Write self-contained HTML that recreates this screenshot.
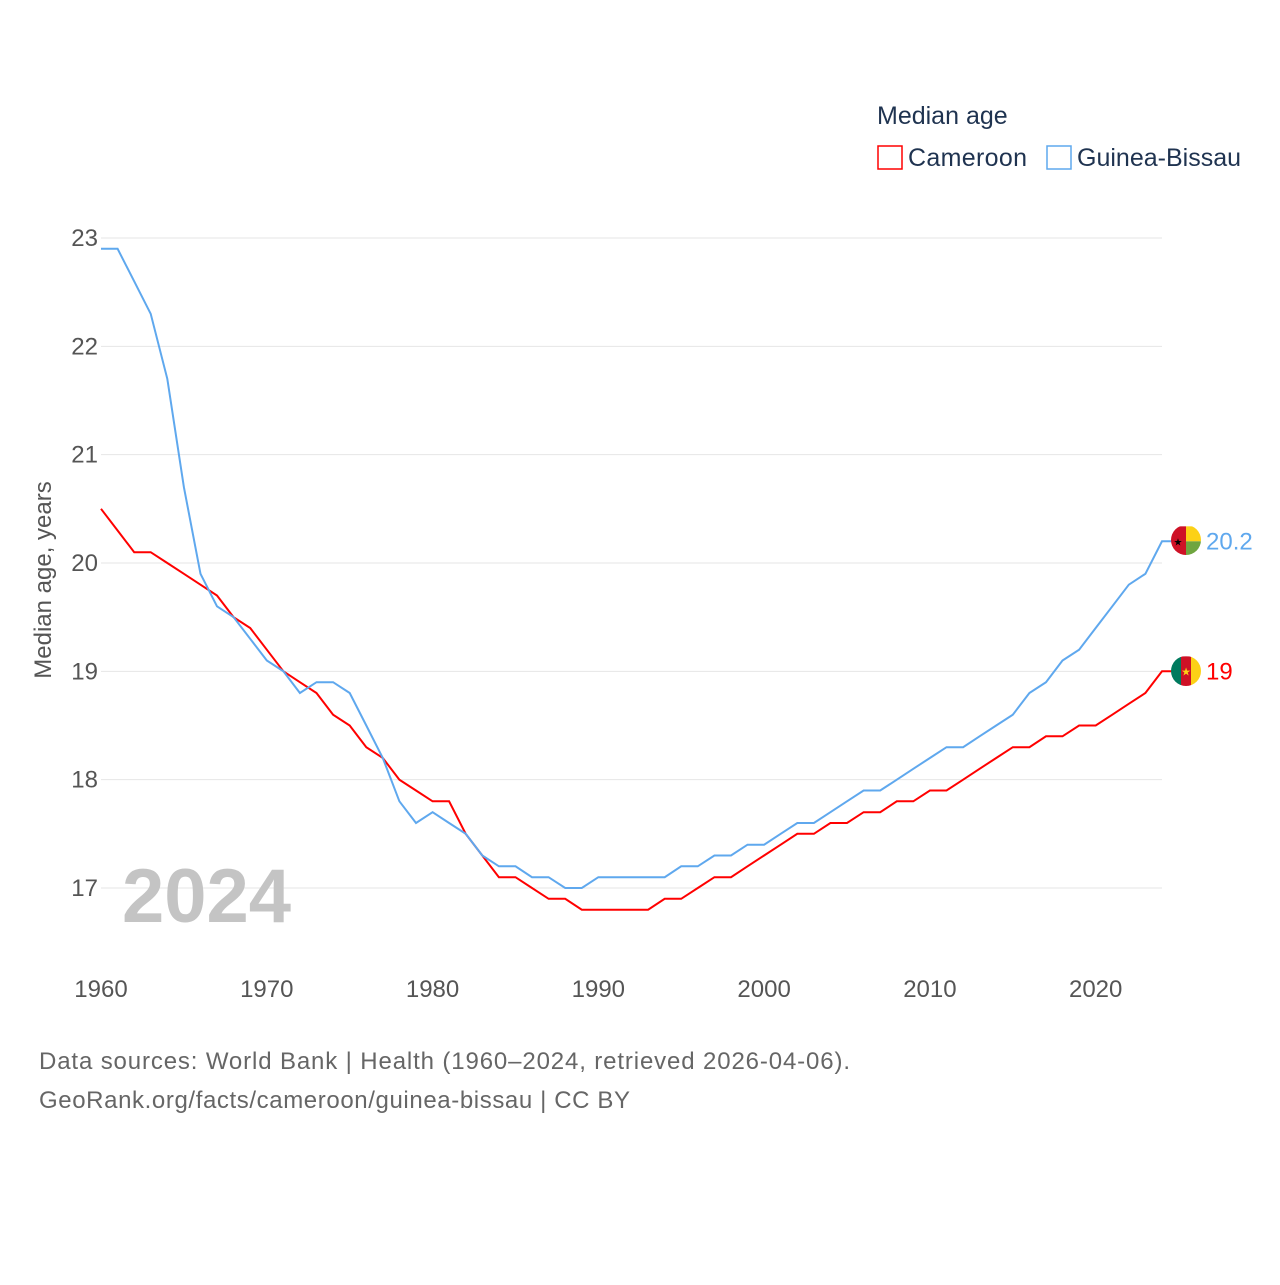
<!DOCTYPE html>
<html><head><meta charset="utf-8">
<style>
body{margin:0;background:#fff;font-family:"Liberation Sans",sans-serif;}
svg text{font-family:"Liberation Sans",sans-serif;}
</style></head>
<body>
<svg id="chart" width="1280" height="1280" viewBox="0 0 1280 1280" xmlns="http://www.w3.org/2000/svg">
<rect width="1280" height="1280" fill="#fff"/>
<defs>
<clipPath id="clipGB"><circle cx="1186" cy="540" r="15"/></clipPath>
<clipPath id="clipCM"><circle cx="1186" cy="671" r="15"/></clipPath>
</defs>
<g id="grid"></g>
<g id="xaxis"></g>
<g id="yaxis"></g>
<text x="122" y="922" font-size="76" font-weight="bold" fill="#c4c4c4">2024</text>
<g id="series"></g>
<text transform="translate(51,580) rotate(-90)" text-anchor="middle" font-size="24" fill="#555">Median age, years</text>
<g>
<text x="877" y="124" font-size="25" fill="#1f3350">Median age</text>
<g>
<rect x="878" y="146" width="24" height="23" fill="none" stroke="#ff0000" stroke-width="1.5"/>
<text x="908" y="166" font-size="25" fill="#1f3350" textLength="119">Cameroon</text></g>
<g>
<rect x="1047" y="146" width="24" height="23" fill="none" stroke="#5fa8ee" stroke-width="1.5"/>
<text x="1077" y="166" font-size="25" fill="#1f3350" textLength="164">Guinea-Bissau</text></g>
</g>
<text x="39" y="1069" font-size="24" fill="#666" textLength="811">Data sources: World Bank | Health (1960–2024, retrieved 2026-04-06).</text>
<text x="39" y="1108" font-size="24" fill="#666" textLength="591">GeoRank.org/facts/cameroon/guinea-bissau | CC BY</text>
</svg>
<script>
const years = [];
for (let y = 1960; y <= 2024; y++) years.push(y);
const cameroon = [20.5,20.3,20.1,20.1,20.0,19.9,19.8,19.7,19.5,19.4,19.2,19.0,18.9,18.8,18.6,18.5,18.3,18.2,18.0,17.9,17.8,17.8,17.5,17.3,17.1,17.1,17.0,16.9,16.9,16.8,16.8,16.8,16.8,16.8,16.9,16.9,17.0,17.1,17.1,17.2,17.3,17.4,17.5,17.5,17.6,17.6,17.7,17.7,17.8,17.8,17.9,17.9,18.0,18.1,18.2,18.3,18.3,18.4,18.4,18.5,18.5,18.6,18.7,18.8,19.0];
const guineaBissau = [22.9,22.9,22.6,22.3,21.7,20.7,19.9,19.6,19.5,19.3,19.1,19.0,18.8,18.9,18.9,18.8,18.5,18.2,17.8,17.6,17.7,17.6,17.5,17.3,17.2,17.2,17.1,17.1,17.0,17.0,17.1,17.1,17.1,17.1,17.1,17.2,17.2,17.3,17.3,17.4,17.4,17.5,17.6,17.6,17.7,17.8,17.9,17.9,18.0,18.1,18.2,18.3,18.3,18.4,18.5,18.6,18.8,18.9,19.1,19.2,19.4,19.6,19.8,19.9,20.2];
const yTicks = [17,18,19,20,21,22,23];
const xTicks = [1960,1970,1980,1990,2000,2010,2020];

const NS = "http://www.w3.org/2000/svg";
const xS = v => 101 + (v - 1960) * (1162 - 101) / 64;
const yS = v => 888 - (v - 17) * 650 / 6;
function mk(tag, attrs, parent) {
  const e = document.createElementNS(NS, tag);
  for (const k in attrs) e.setAttribute(k, attrs[k]);
  parent.appendChild(e); return e;
}
const grid = document.getElementById('grid'), ya = document.getElementById('yaxis'), xa = document.getElementById('xaxis'), ser = document.getElementById('series');
yTicks.forEach(t => {
  const l = mk('line', {x1: 101, x2: 1162, y1: yS(t), y2: yS(t), stroke: '#e6e6e6', 'stroke-width': 1}, grid);
  
  
  const tx = mk('text', {x: 98, y: yS(t) + 8, 'text-anchor': 'end', 'font-size': 24, fill: '#555'}, ya);
  tx.textContent = t;
  
  
});
xTicks.forEach(t => {
  const tx = mk('text', {x: xS(t), y: 997, 'text-anchor': 'middle', 'font-size': 24, fill: '#555'}, xa);
  tx.textContent = t;
  
  
});
function line(data, color, name, clip, flagParts) {
  const last = data[data.length - 1];
  const cx = xS(2024) + 24, cy = yS(last);
  const d = data.map((v, i) => (i ? 'L' : 'M') + xS(years[i]).toFixed(1) + ',' + yS(v).toFixed(1)).join('') + 'L' + (cx - 14) + ',' + cy.toFixed(1);
  const p = mk('path', {d: d, fill: 'none', stroke: color, 'stroke-width': 2}, ser);
  
  
  const g = mk('g', {'clip-path': 'url(#' + clip + ')'}, ser);
  
  
  flagParts(g, cx, cy);
  const lb = mk('text', {x: cx + 20, y: cy + 8, 'font-size': 24, fill: color}, ser);
  lb.textContent = String(last);
  
  
}
line(cameroon, '#ff0000', 'cameroon', 'clipCM', (g, cx, cy) => {
  mk('rect', {x: cx - 15, y: cy - 15, width: 10, height: 30, fill: '#007a5e'}, g);
  mk('rect', {x: cx - 5, y: cy - 15, width: 10, height: 30, fill: '#ce1126'}, g);
  mk('rect', {x: cx + 5, y: cy - 15, width: 10, height: 30, fill: '#fcd116'}, g);
  const s = mk('text', {x: cx, y: cy + 4, 'text-anchor': 'middle', 'font-size': 11, fill: '#fcd116'}, g);
  s.textContent = '★';
});
line(guineaBissau, '#5fa8ee', 'guinea-bissau', 'clipGB', (g, cx, cy) => {
  mk('rect', {x: cx - 15, y: cy - 15, width: 15, height: 30, fill: '#ce1126'}, g);
  mk('rect', {x: cx, y: cy - 15, width: 15, height: 15, fill: '#fcd116'}, g);
  mk('rect', {x: cx, y: cy, width: 15, height: 15, fill: '#6fa53f'}, g);
  const s = mk('text', {x: cx - 8, y: cy + 4, 'text-anchor': 'middle', 'font-size': 10, fill: '#000'}, g);
  s.textContent = '★';
});
</script>
</body></html>
